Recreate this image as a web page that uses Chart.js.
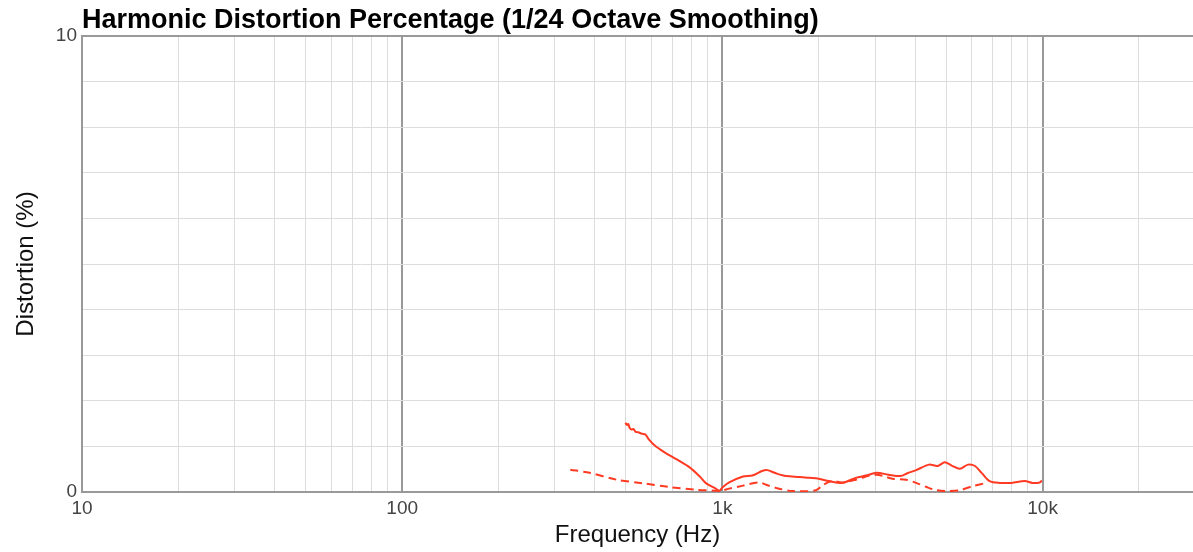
<!DOCTYPE html>
<html>
<head>
<meta charset="utf-8">
<script src="https://cdn.jsdelivr.net/npm/chart.js@4.4.1/dist/chart.umd.min.js"></script>
<style>
  html, body { margin: 0; padding: 0; background: #fff; }
  #wrap { width: 1193px; height: 552px; }
</style>
</head>
<body>
<div id="wrap"><canvas id="distChart" width="1193" height="552"></canvas></div>
<script>
// Datos
const titulo = 'Harmonic Distortion Percentage (1/24 Octave Smoothing)';

const freqSolida = [498, 503, 508, 513, 520, 528, 536, 546, 560, 575, 590, 615, 660, 718, 790, 850, 890, 950, 980, 1000,
    1050, 1160, 1240, 1330, 1380, 1470, 1580, 1740, 1870, 2000, 2150, 2370, 2610, 2810, 3030, 3300, 3600, 3780,
    4030, 4420, 4700, 4950, 5200, 5520, 5850, 6150, 6450, 6830, 7350, 8000, 8800, 9300, 9800, 9950];
const valSolida = [1.52, 1.47, 1.49, 1.41, 1.37, 1.38, 1.32, 1.31, 1.28, 1.26, 1.15, 1.02, 0.87, 0.72, 0.54, 0.34, 0.19, 0.08, 0.03, 0.10,
    0.21, 0.34, 0.36, 0.46, 0.48, 0.41, 0.35, 0.33, 0.31, 0.29, 0.24, 0.20, 0.31, 0.36, 0.42, 0.38, 0.35, 0.41,
    0.48, 0.60, 0.57, 0.65, 0.58, 0.51, 0.60, 0.57, 0.42, 0.24, 0.20, 0.20, 0.24, 0.20, 0.21, 0.25];

const freqDiscontinua = [335, 385, 467, 565, 680, 825, 950, 1000, 1020, 1160, 1300, 1370, 1470, 1660, 1960, 2070,
    2200, 2370, 2610, 2880, 3030, 3180, 3400, 3750, 4030, 4340, 4650, 5000, 5520, 6050, 6580];
const valDiscontinua = [0.49, 0.42, 0.27, 0.19, 0.11, 0.05, 0.03, 0.02, 0.05, 0.14, 0.21, 0.16, 0.09, 0.02, 0.04, 0.16,
    0.24, 0.21, 0.27, 0.36, 0.38, 0.35, 0.29, 0.27, 0.20, 0.11, 0.04, 0.02, 0.04, 0.13, 0.19];

// Marcas del eje X
const ticksX = [10, 20, 30, 40, 50, 60, 70, 80, 90, 100, 200, 300, 400, 500, 600, 700, 800, 900,
    1000, 2000, 3000, 4000, 5000, 6000, 7000, 8000, 9000, 10000, 20000];
const etiquetasX = { 10: '10', 100: '100', 1000: '1k', 10000: '10k' };
const etiquetasY = { 0: '0', 10: '10' };

const COLOR = '#ff3a22';
const fuente = '"Liberation Sans", Arial, Helvetica, sans-serif';

function puntos(xs, ys) {
    return xs.map((x, i) => ({ x: x, y: ys[i] }));
}

// Título dibujado a la izquierda del área del gráfico
const tituloPlugin = {
    id: 'tituloPlugin',
    afterDraw(chart) {
        const c = chart.ctx;
        c.save();
        c.font = 'bold 27px ' + fuente;
        c.fillStyle = '#000';
        c.textBaseline = 'alphabetic';
        c.fillText(titulo, chart.chartArea.left, 28);
        c.restore();
    }
};

const ctx = document.getElementById('distChart').getContext('2d');

new Chart(ctx, {
    type: 'scatter',
    data: {
        datasets: [{
            data: puntos(freqSolida, valSolida),
            showLine: true,
            borderColor: COLOR,
            borderWidth: 2,
            pointRadius: 0,
            tension: 0.3
        }, {
            data: puntos(freqDiscontinua, valDiscontinua),
            showLine: true,
            borderColor: COLOR,
            borderWidth: 2,
            borderDash: [8, 5],
            pointRadius: 0,
            tension: 0.3
        }]
    },
    options: {
        responsive: false,
        animation: false,
        layout: { padding: { top: 36, right: 0, left: 0, bottom: 0 } },
        plugins: {
            legend: { display: false },
            tooltip: { enabled: false }
        },
        scales: {
            x: {
                type: 'logarithmic',
                min: 10,
                max: 29500,
                afterBuildTicks: (scale) => {
                    scale.ticks = ticksX.map(v => ({ value: v }));
                },
                afterFit: (scale) => { scale.height = 60; },
                border: { color: '#999', width: 2 },
                grid: {
                    drawTicks: false,
                    color: (c) => etiquetasX[c.tick.value] && c.tick.value !== 10 ? '#999' : '#ddd',
                    lineWidth: (c) => etiquetasX[c.tick.value] && c.tick.value !== 10 ? 2 : 1
                },
                ticks: {
                    autoSkip: false,
                    maxRotation: 0,
                    padding: 5,
                    color: '#444',
                    font: { family: fuente, size: 19 },
                    callback: (v) => etiquetasX[v] || ''
                },
                title: {
                    display: true,
                    text: 'Frequency (Hz)',
                    color: '#111',
                    font: { family: fuente, size: 24 },
                    padding: { top: 0, bottom: 2 }
                }
            },
            y: {
                min: 0,
                max: 10,
                afterFit: (scale) => { scale.width = 82; },
                border: { color: '#999', width: 2 },
                grid: {
                    drawTicks: false,
                    color: (c) => c.tick.value === 10 ? '#999' : '#ddd',
                    lineWidth: (c) => c.tick.value === 10 ? 2 : 1
                },
                ticks: {
                    stepSize: 1,
                    padding: 5,
                    color: '#444',
                    font: { family: fuente, size: 19 },
                    callback: (v) => etiquetasY[v] || ''
                },
                title: {
                    display: true,
                    text: 'Distortion (%)',
                    color: '#111',
                    font: { family: fuente, size: 24 },
                    padding: { top: 12, bottom: 10 }
                }
            }
        }
    },
    plugins: [tituloPlugin]
});
</script>
</body>
</html>
